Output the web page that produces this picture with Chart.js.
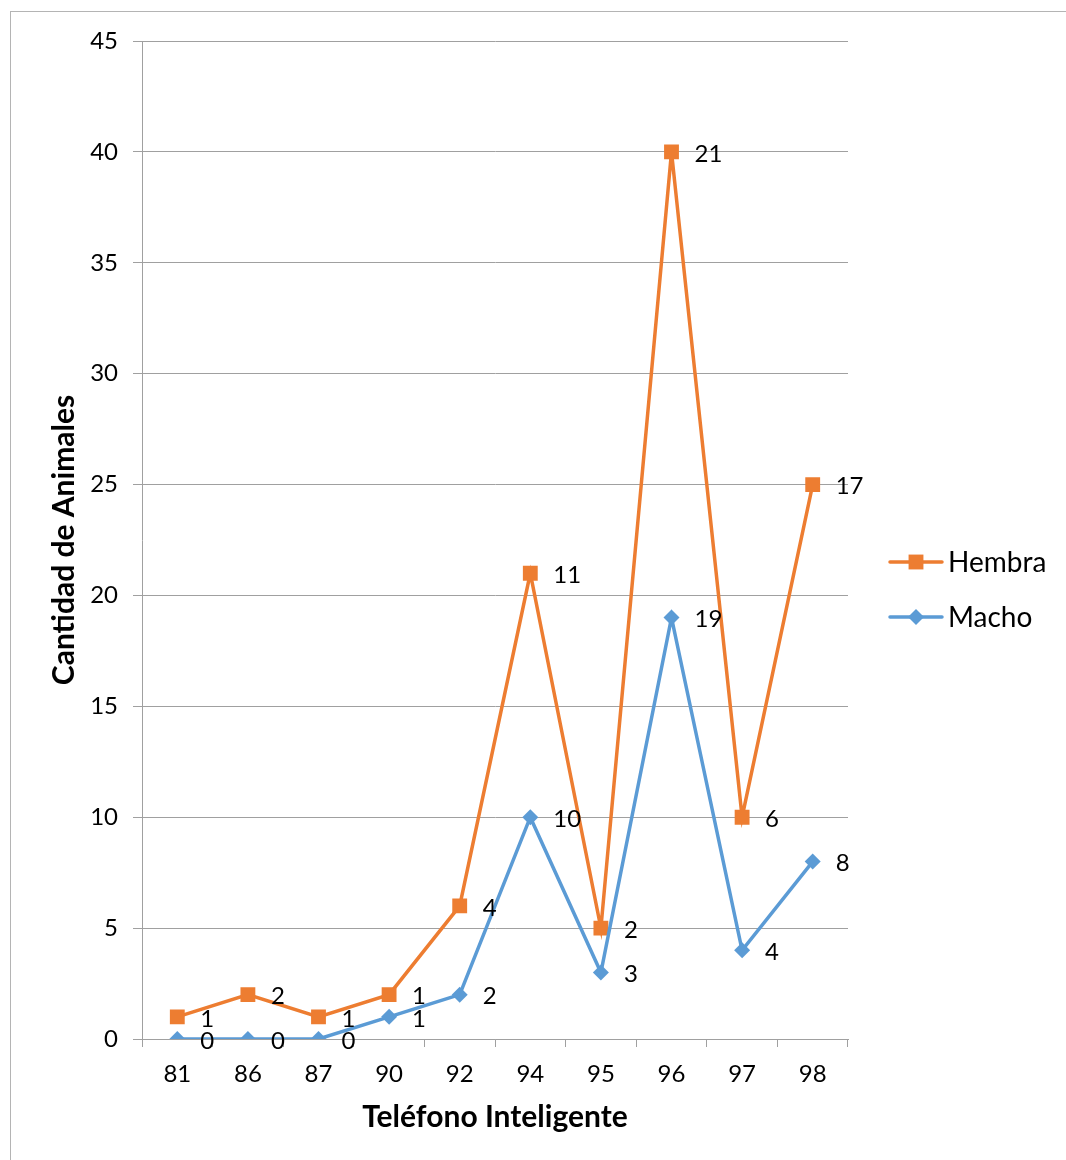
<!DOCTYPE html>
<html>
<head>
<meta charset="utf-8">
<script src="https://cdn.jsdelivr.net/npm/chart.js@4"></script>
<style>
  html, body { margin: 0; padding: 0; background: #fff; }
  #c { display: block; }
</style>
</head>
<body>
<canvas id="c" width="1066" height="1160"></canvas>
<script>
// Animales por modelo de teléfono inteligente (líneas apiladas)
const categories = ['81', '86', '87', '90', '92', '94', '95', '96', '97', '98'];
const macho  = [0, 0, 0, 1, 2, 10, 3, 19, 4, 8];
const hembra = [1, 2, 1, 1, 4, 11, 2, 21, 6, 17];
const yTicks = [0, 5, 10, 15, 20, 25, 30, 35, 40, 45];

const ORANGE = '#ED7D31';
const BLUE = '#5B9BD5';
const GRID = '#a0a0a0';
const FONT = 'Lato, "Open Sans", sans-serif';

// Thin frame around the whole chart
const framePlugin = {
  id: 'frame',
  beforeDraw(chart) {
    const ctx = chart.ctx;
    ctx.save();
    ctx.fillStyle = '#fff';
    ctx.fillRect(0, 0, chart.width, chart.height);
    ctx.strokeStyle = '#b4b4b4';
    ctx.lineWidth = 1;
    ctx.strokeRect(10.5, 11.5, chart.width + 20, chart.height + 20);
    ctx.restore();
  }
};

// Each point's own value written to its right
const valueLabels = {
  id: 'valueLabels',
  afterDatasetsDraw(chart) {
    const ctx = chart.ctx;
    ctx.save();
    ctx.font = '24px ' + FONT;
    ctx.fillStyle = '#000';
    ctx.textAlign = 'left';
    ctx.textBaseline = 'middle';
    chart.data.datasets.forEach((ds, di) => {
      const meta = chart.getDatasetMeta(di);
      meta.data.forEach((pt, i) => {
        ctx.fillText(String(ds.data[i]), pt.x + 23, pt.y + 2);
      });
    });
    ctx.restore();
  }
};

// Legend on the right: line segment with marker, then the series name
const sideLegend = {
  id: 'sideLegend',
  afterDraw(chart) {
    const ctx = chart.ctx;
    const items = chart.data.datasets.slice().reverse();
    ctx.save();
    items.forEach((ds, k) => {
      const y = 562 + k * 55;
      ctx.strokeStyle = ds.borderColor;
      ctx.lineWidth = ds.borderWidth;
      ctx.lineCap = 'round';
      ctx.beginPath();
      ctx.moveTo(890, y);
      ctx.lineTo(942, y);
      ctx.stroke();
      ctx.fillStyle = ds.borderColor;
      const r = ds.pointRadius;
      if (ds.pointStyle === 'rect') {
        const h = Math.SQRT1_2 * r;
        ctx.fillRect(916 - h, y - h, 2 * h, 2 * h);
      } else {
        ctx.beginPath();
        ctx.moveTo(916 - r, y);
        ctx.lineTo(916, y - r);
        ctx.lineTo(916 + r, y);
        ctx.lineTo(916, y + r);
        ctx.closePath();
        ctx.fill();
      }
      ctx.fillStyle = '#000';
      ctx.font = '28px ' + FONT;
      ctx.textAlign = 'left';
      ctx.textBaseline = 'middle';
      ctx.fillText(ds.label, 948, y + 1);
    });
    ctx.restore();
  }
};

new Chart(document.getElementById('c'), {
  type: 'line',
  data: {
    labels: categories,
    datasets: [
      {
        label: 'Macho',
        data: macho,
        borderColor: BLUE,
        backgroundColor: BLUE,
        borderWidth: 3.5,
        pointStyle: 'rectRot',
        pointRadius: 8,
        pointHoverRadius: 8,
        pointBorderWidth: 0,
        tension: 0,
        fill: false
      },
      {
        label: 'Hembra',
        data: hembra,
        borderColor: ORANGE,
        backgroundColor: ORANGE,
        borderWidth: 3.5,
        pointStyle: 'rect',
        pointRadius: 10.5,
        pointHoverRadius: 10.5,
        pointBorderWidth: 0,
        tension: 0,
        fill: false
      }
    ]
  },
  options: {
    responsive: false,
    animation: false,
    devicePixelRatio: 1,
    layout: { padding: { left: 0, top: 41, right: 218, bottom: 0 } },
    plugins: {
      legend: { display: false },
      tooltip: { enabled: false }
    },
    scales: {
      x: {
        type: 'category',
        offset: true,
        afterFit: s => { s.height = 121; },
        grid: {
          display: true,
          drawOnChartArea: false,
          drawTicks: true,
          tickLength: 8,
          offset: true,
          color: GRID
        },
        border: { display: true, color: GRID },
        ticks: {
          color: '#000',
          font: { family: FONT, size: 24 },
          padding: 13,
          maxRotation: 0
        },
        title: {
          display: true,
          text: 'Teléfono Inteligente',
          color: '#000',
          font: { family: FONT, size: 30, weight: 'bold' },
          padding: { top: 0, bottom: 25 }
        }
      },
      y: {
        stacked: true,
        min: 0,
        max: 45,
        afterFit: s => { s.width = 142; },
        afterBuildTicks: s => { s.ticks = yTicks.map(v => ({ value: v })); },
        grid: {
          color: GRID,
          tickLength: 9,
          drawTicks: true
        },
        border: { display: true, color: GRID },
        ticks: {
          color: '#000',
          font: { family: FONT, size: 24 },
          padding: 15
        },
        title: {
          display: true,
          text: 'Cantidad de Animales',
          color: '#000',
          font: { family: FONT, size: 30, weight: 'bold' },
          padding: { top: 46, bottom: 0 }
        }
      }
    }
  },
  plugins: [framePlugin, valueLabels, sideLegend]
});
</script>
</body>
</html>
